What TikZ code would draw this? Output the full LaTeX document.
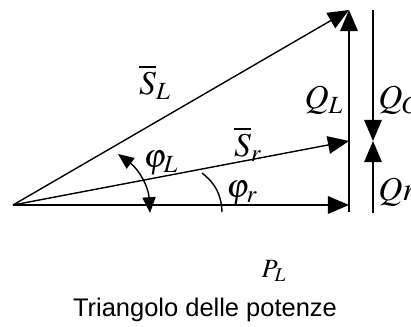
\documentclass[tikz,border=0pt]{standalone}
\usepackage{mathptmx}
\usepackage{fontspec}
\newfontfamily\titlefont{Liberation Sans}
\usetikzlibrary{arrows.meta}

\begin{document}
\begin{tikzpicture}[x=0.02cm, y=0.02cm,
        vec/.style={-{Triangle[length=12pt, width=10pt]}, line width=0.8pt},
        ang/.style={line width=0.8pt},
        angarrow/.style={{Triangle[length=9pt, width=7.5pt]}-{Triangle[length=9pt, width=7.5pt]}, line width=0.8pt},
        lab/.style={inner sep=0pt, font=\fontsize{19}{22}\selectfont},
        smalllab/.style={inner sep=0pt, font=\fontsize{15}{18}\selectfont}
      ]
        \useasboundingbox (0,0) rectangle (411,326);
        \coordinate (orig) at (13,121);
        \coordinate (pend) at (349,121);
        \coordinate (qlbot) at (349,114);
        \coordinate (qltop) at (349,316);
        \coordinate (srend) at (349,185);
        \coordinate (qctop) at (373,316);
        \coordinate (qcmid) at (373,185);
        \coordinate (qrbot) at (373,113);
        \coordinate (phila) at (150,113);
        \coordinate (philb) at (118,172);
        \coordinate (phira) at (222,114);
        \coordinate (phirb) at (202,153);
        \draw[vec] (orig) -- (pend);
        \draw[vec] (orig) -- (srend);
        \draw[vec] (orig) -- (qltop);
        \draw[vec] (qlbot) -- (qltop);
        \draw[vec] (qctop) -- (qcmid);
        \draw[vec] (qrbot) -- (qcmid);
        \draw[angarrow] (phila) to[bend right=25] (philb);
        \draw[ang] (phira) to[bend right=25] (phirb);
        \node[lab] (sl) at (155,244) {$\overline{S}_L$};
        \node[lab] (sr) at (248,182) {$\overline{S}_r$};
        \node[lab] (ql) at (324,226) {$Q_L$};
        \node[lab, anchor=west] (qc) at (378,226) {$Q_C$};
        \node[lab, anchor=west] (qr) at (378,134) {$Qr$};
        \node[lab] (phil) at (161,163) {$\varphi_L$};
        \node[lab] (phir) at (242,133) {$\varphi_r$};
        \node[smalllab] (pl) at (274,55) {$P_L$};
        \node[inner sep=0pt, font=\titlefont\fontsize{14.5}{17}\selectfont] (title) at (205,16) {Triangolo delle potenze};
      \end{tikzpicture}
\end{document}
